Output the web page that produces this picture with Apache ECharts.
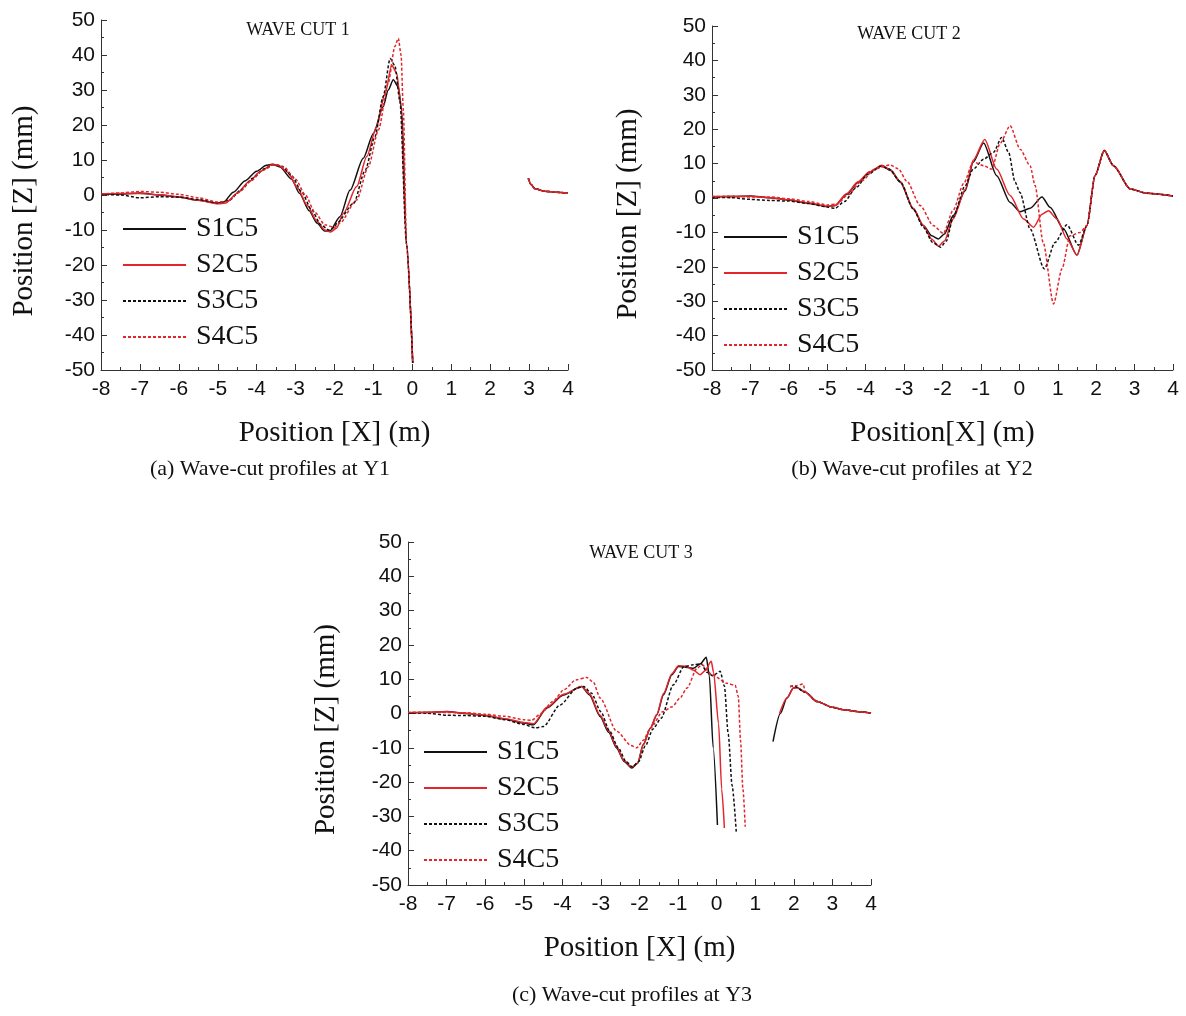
<!DOCTYPE html>
<html>
<head>
<meta charset="utf-8">
<script src="https://cdn.jsdelivr.net/npm/echarts@6/dist/echarts.min.js"></script>
<style>html,body{margin:0;padding:0;background:#fff}#c{width:1186px;height:1016px}</style>
</head>
<body>
<div id="c"></div>
<script>
// ---- tick / axis settings ----
const xTicks = {min: -8, max: 4, interval: 1};
const yTicks = {min: -50, max: 50, interval: 10};
const seriesNames = ['S1C5', 'S2C5', 'S3C5', 'S4C5'];
const panelTitles = ['WAVE CUT 1', 'WAVE CUT 2', 'WAVE CUT 3'];
const captions = ['(a) Wave-cut profiles at Y1', '(b) Wave-cut profiles at Y2', '(c) Wave-cut profiles at Y3'];
const xNames = ['Position [X] (m)', 'Position[X] (m)', 'Position [X] (m)'];
const yName = 'Position [Z] (mm)';

// ---- WAVE CUT 1 ----
const cut1Right = [[2.98,4.8],[3.05,3.0],[3.15,1.8],[3.4,1.1],[3.7,0.8],[4.0,0.5]];
const cut1S1 = [[-8,0.2],[-7.5,0.3],[-7,0.6],[-6.5,0],[-6,-0.6],[-5.5,-1.5],[-5,-2.3],[-4.85,-2.0],[-4.6,0.8],[-4.3,4.0],[-4.0,6.8],[-3.75,8.5],[-3.6,8.8],[-3.4,8.0],[-3.1,4.5],[-2.9,0.5],[-2.65,-4.5],[-2.45,-8.0],[-2.25,-10.3],[-2.12,-10.3],[-1.86,-6.2],[-1.6,1.4],[-1.26,10.5],[-1.0,17.6],[-0.75,25.2],[-0.62,30],[-0.49,32.9],[-0.36,30.9],[-0.27,24],[-0.15,-14],[0.01,-48],[1.5,'-']];
const cut1S2 = [[-8,0.3],[-7.5,0.4],[-7,0.4],[-6.5,0.1],[-6,-0.5],[-5.5,-1.5],[-5,-2.5],[-4.8,-2.3],[-4.5,0.5],[-4.2,3.8],[-3.9,6.8],[-3.6,8.7],[-3.45,8.6],[-3.2,6.5],[-2.95,2],[-2.7,-3],[-2.45,-7.5],[-2.25,-10],[-2.1,-10.6],[-1.95,-9.5],[-1.77,-5.2],[-1.43,2.4],[-1.17,11],[-0.92,19.5],[-0.7,29],[-0.53,37.1],[-0.4,34.8],[-0.3,26],[-0.15,-14],[0.01,-48],[1.5,'-']];
const cut1S3 = [[-8,0.2],[-7.5,0.0],[-7,-0.8],[-6.5,-0.5],[-6,-0.6],[-5.5,-1.3],[-5,-2.2],[-4.7,-1.5],[-4.4,1.5],[-4.1,4.8],[-3.8,7.5],[-3.55,8.7],[-3.35,8.2],[-3.1,5.5],[-2.85,1],[-2.6,-4],[-2.35,-8.5],[-2.15,-10],[-2.0,-9.3],[-1.94,-8],[-1.51,-2.4],[-1.21,7.1],[-0.96,16.7],[-0.75,28.1],[-0.57,39],[-0.45,37],[-0.32,27],[-0.15,-14],[0.01,-48],[1.5,'-']];
const cut1S4 = [[-8,0.3],[-7.5,0.6],[-7,1.0],[-6.5,0.8],[-6,0.2],[-5.5,-0.8],[-5,-2.0],[-4.75,-1.8],[-4.45,0.8],[-4.15,4.0],[-3.85,7.0],[-3.55,8.7],[-3.3,8.0],[-3.0,4.5],[-2.75,0],[-2.5,-5],[-2.25,-8.5],[-2.0,-9.3],[-1.86,-8],[-1.43,-1.4],[-1.13,8.1],[-0.87,18.6],[-0.62,31.9],[-0.45,42.4],[-0.36,44.8],[-0.29,40],[-0.23,24],[-0.15,-14],[0.01,-48],[1.5,'-']];

// ---- WAVE CUT 2 ----
const cut2Right = [[1.76,-8],[1.97,6.5],[2.21,13.8],[2.45,9.4],[2.89,2.6],[3.32,1.4],[4,0.6]];
const cut2S1 = [[-8,0.3],[-7.5,0.4],[-7,0.6],[-6.5,0.1],[-6,-0.6],[-5.5,-1.5],[-5,-2.5],[-4.8,-2.2],[-4.5,1],[-4.2,4.5],[-3.9,7.5],[-3.58,9.4],[-3.35,8],[-3.1,4.6],[-2.76,-3.2],[-2.5,-8],[-2.28,-11],[-2.11,-11.9],[-1.95,-10.5],[-1.72,-5.1],[-1.41,2.1],[-1.2,10.4],[-0.93,16],[-0.59,6.5],[-0.24,-1.3],[0.02,-4.0],[0.28,-3],[0.59,0.3],[0.8,-2.7],[1.15,-9],[1.5,-16.6]];
const cut2S2 = [[-8,0.4],[-7.5,0.4],[-7,0.5],[-6.5,0.1],[-6,-0.5],[-5.5,-1.4],[-5,-2.4],[-4.8,-2.2],[-4.5,1.2],[-4.2,4.7],[-3.9,7.6],[-3.58,9.5],[-3.35,8.2],[-3.1,4.8],[-2.76,-3.0],[-2.5,-8],[-2.28,-12],[-2.1,-14],[-1.95,-12.5],[-1.72,-6],[-1.41,2.5],[-1.2,11],[-0.9,17],[-0.59,8.4],[-0.24,0.7],[0.11,-6.1],[0.37,-8.5],[0.59,-4.7],[0.76,-3.7],[0.98,-6.1],[1.24,-11.9],[1.5,-16.6]];
const cut2S3 = [[-8,0.2],[-7.5,0.1],[-7,-0.4],[-6.5,-0.7],[-6,-0.9],[-5.5,-1.6],[-5,-2.6],[-4.8,-3.0],[-4.55,-1],[-4.25,3],[-3.95,6.8],[-3.6,9.2],[-3.4,8.5],[-3.1,4.8],[-2.76,-3.2],[-2.5,-8.5],[-2.25,-13],[-2.05,-14.3],[-1.9,-12.5],[-1.72,-5.5],[-1.41,3.6],[-1.2,8.4],[-0.93,11.3],[-0.67,13.3],[-0.46,17.6],[-0.28,13.3],[-0.11,4.6],[0.02,1.5],[0.28,-9],[0.65,-20.6],[0.93,-12.9],[1.24,-7.8],[1.54,-13.7]];
const cut2S4 = [[-8,0.4],[-7.5,0.5],[-7,0.3],[-6.5,0.3],[-6,-0.2],[-5.5,-1.0],[-5,-2.0],[-4.75,-1.8],[-4.45,1],[-4.1,5],[-3.75,8.5],[-3.36,9.6],[-3.15,8.5],[-2.93,4.9],[-2.58,-2.2],[-2.24,-8],[-1.98,-10.3],[-1.72,-3.5],[-1.45,4.2],[-1.2,10.5],[-0.93,9.4],[-0.72,8.4],[-0.5,15.9],[-0.24,21],[0.02,14.2],[0.28,9.4],[0.41,3.6],[0.62,-12.9],[0.89,-30.8],[1.11,-20.6],[1.32,-11],[1.58,-10]];

// ---- WAVE CUT 3 ----
const cut3Right = [[2.3,6.2],[2.6,3.5],[3.0,1.8],[3.29,1.1],[3.7,0.5],[4.0,0.1]];
const cut3S1 = [[-8,0.2],[-7.5,0.3],[-7,0.6],[-6.5,0],[-6,-0.6],[-5.5,-1.6],[-5,-2.8],[-4.75,-3.3],[-4.4,1.6],[-3.97,5.4],[-3.5,7.9],[-3.3,5.5],[-3.02,-0.9],[-2.8,-5.5],[-2.59,-10.1],[-2.4,-14],[-2.2,-15.9],[-2.05,-14.5],[-1.9,-9],[-1.72,-4.3],[-1.55,-0.4],[-1.38,5.4],[-1.16,11.3],[-0.99,13.7],[-0.8,13.5],[-0.6,13.2],[-0.42,14.5],[-0.27,16.4],[-0.19,11],[-0.09,-10],[0.02,-32.5],[0.8,'-'],[1.46,-8.2],[1.65,0],[1.82,4.5],[1.99,7.4],[2.08,7.6]];
const cut3S2 = [[-8,0.3],[-7.5,0.4],[-7,0.5],[-6.5,0.1],[-6,-0.5],[-5.5,-1.5],[-5,-2.6],[-4.75,-3.0],[-4.4,1.8],[-3.97,5.6],[-3.5,7.9],[-3.3,5.8],[-3.02,-0.5],[-2.8,-5],[-2.59,-9.8],[-2.4,-13.8],[-2.2,-15.6],[-2.05,-14.5],[-1.9,-9.2],[-1.72,-4.3],[-1.55,-0.2],[-1.38,5.8],[-1.16,11.6],[-0.99,13.9],[-0.8,13.8],[-0.6,12.6],[-0.43,11.3],[-0.3,12.5],[-0.14,15.2],[-0.08,12],[0.05,-3],[0.13,-22],[0.2,-33.4],[0.9,'-'],[1.63,0],[1.82,4.5],[1.99,7.4],[2.08,7.6]];
const cut3S3 = [[-8,0.2],[-7.5,0.1],[-7,-0.5],[-6.5,-0.6],[-6,-0.8],[-5.5,-1.8],[-5,-3.2],[-4.7,-4.2],[-4.49,-3.8],[-4.06,2.5],[-3.62,7.4],[-3.45,7.9],[-3.25,6],[-3.0,0.5],[-2.78,-5],[-2.55,-10],[-2.35,-14],[-2.18,-15.6],[-2.02,-14],[-1.85,-9.5],[-1.65,-4.5],[-1.44,-1.4],[-1.12,8.4],[-0.85,13.7],[-0.6,14.2],[-0.4,14.5],[-0.25,12],[-0.1,11],[0.09,12.3],[0.2,8],[0.3,-6],[0.4,-21],[0.51,-34.9],[1.2,'-'],[1.9,7.9],[2.0,8.0]];
const cut3S4 = [[-8,0.3],[-7.5,0.4],[-7,0.3],[-6.5,0.2],[-6,-0.2],[-5.5,-0.8],[-5,-1.8],[-4.8,-2.0],[-4.55,0],[-4.25,3.5],[-3.95,7],[-3.65,9.8],[-3.37,10.5],[-3.2,9.2],[-3.02,4.5],[-2.59,-5.2],[-2.22,-9.3],[-2.07,-10],[-1.9,-7.8],[-1.72,-4.3],[-1.4,0.5],[-1.15,2],[-0.95,4.5],[-0.77,7.4],[-0.51,13.2],[-0.38,14.2],[-0.12,11.3],[0.27,8.8],[0.48,8.2],[0.56,5],[0.62,-8],[0.68,-22],[0.74,-33],[1.3,'-'],[1.9,7.8],[2.05,8.1],[2.24,8.6]];

const panels = [
  {data: [cut1S1, cut1S2, cut1S3, cut1S4], right: cut1Right},
  {data: [cut2S1, cut2S2, cut2S3, cut2S4], right: cut2Right},
  {data: [cut3S1, cut3S2, cut3S3, cut3S4], right: cut3Right}
];

// ---- layout / style ----
const grids = [
  {left: 101, top: 20, width: 467, height: 350},
  {left: 712, top: 26, width: 461, height: 344},
  {left: 408, top: 542, width: 463, height: 343}
];
const yNameGaps = [62, 69, 67];
const legendPos = [{left: 122, top: 215}, {left: 723, top: 223}, {left: 423, top: 738}];
const titlePos = [[298, 30], [909, 34], [641, 553]];
const captionPos = [[270, 469], [912, 469], [632, 995]];
const styles = [
  {color: '#111111', type: 'solid'},
  {color: '#e3262b', type: 'solid'},
  {color: '#111111', type: [3, 2]},
  {color: '#e3262b', type: [3, 2]}
];
const SERIF = '"Liberation Serif", "Times New Roman", serif';
const SANS = '"Liberation Sans", Arial, sans-serif';
const axisColor = '#333';

const xAxis = [], yAxis = [], series = [], legend = [], graphic = [];
grids.forEach((g, i) => {
  xAxis.push({
    type: 'value', gridIndex: i, min: xTicks.min, max: xTicks.max, interval: xTicks.interval,
    name: xNames[i], nameLocation: 'middle', nameGap: 49,
    nameTextStyle: {fontFamily: SERIF, fontSize: 29, color: '#111'},
    axisLine: {show: true, onZero: false, lineStyle: {color: axisColor, width: 1}},
    axisTick: {show: true, inside: true, length: 6, lineStyle: {color: axisColor}},
    minorTick: {show: true, splitNumber: 2, length: 3, lineStyle: {color: axisColor}},
    axisLabel: {fontFamily: SANS, fontSize: 21, color: '#111', margin: 9},
    splitLine: {show: false}
  });
  yAxis.push({
    type: 'value', gridIndex: i, min: yTicks.min, max: yTicks.max, interval: yTicks.interval,
    name: yName, nameLocation: 'middle', nameGap: yNameGaps[i],
    nameTextStyle: {fontFamily: SERIF, fontSize: 29, color: '#111', padding: [0, 32, 0, 0]},
    axisLine: {show: true, onZero: false, lineStyle: {color: axisColor, width: 1}},
    axisTick: {show: true, inside: true, length: 6, lineStyle: {color: axisColor}},
    minorTick: {show: true, splitNumber: 2, length: 3, lineStyle: {color: axisColor}},
    axisLabel: {fontFamily: SANS, fontSize: 21, color: '#111', margin: 6},
    splitLine: {show: false}
  });
  panels[i].data.forEach((d, k) => {
    series.push({
      name: seriesNames[k], type: 'line', xAxisIndex: i, yAxisIndex: i,
      data: d.concat(panels[i].right),
      symbol: 'none', showSymbol: false, smooth: 0.25, smoothMonotone: 'x', connectNulls: false,
      lineStyle: {color: styles[k].color, width: 1.5, type: styles[k].type},
      itemStyle: {color: styles[k].color}, z: 2 + k, animation: false
    });
  });
  legend.push({
    orient: 'vertical', left: legendPos[i].left, top: legendPos[i].top,
    itemWidth: 63, itemHeight: 14, itemGap: 8, selectedMode: false, padding: 0,
    itemStyle: {opacity: 0, borderWidth: 0},
    textStyle: {fontFamily: SERIF, fontSize: 28, color: '#111', lineHeight: 28, padding: [0, 0, 0, 5]},
    data: seriesNames
  });
  graphic.push({
    type: 'text', x: titlePos[i][0], y: titlePos[i][1],
    style: {text: panelTitles[i], font: '18px ' + SERIF, fill: '#111', align: 'center', verticalAlign: 'middle'}
  });
  graphic.push({
    type: 'text', x: captionPos[i][0], y: captionPos[i][1],
    style: {text: captions[i], font: '22px ' + SERIF, fill: '#111', align: 'center', verticalAlign: 'middle'}
  });
});

const chart = echarts.init(document.getElementById('c'), null, {renderer: 'canvas'});
chart.setOption({
  animation: false, backgroundColor: '#fff',
  grid: grids.map(g => Object.assign({containLabel: false}, g)),
  xAxis, yAxis, series, legend, graphic
});
</script>
</body>
</html>
